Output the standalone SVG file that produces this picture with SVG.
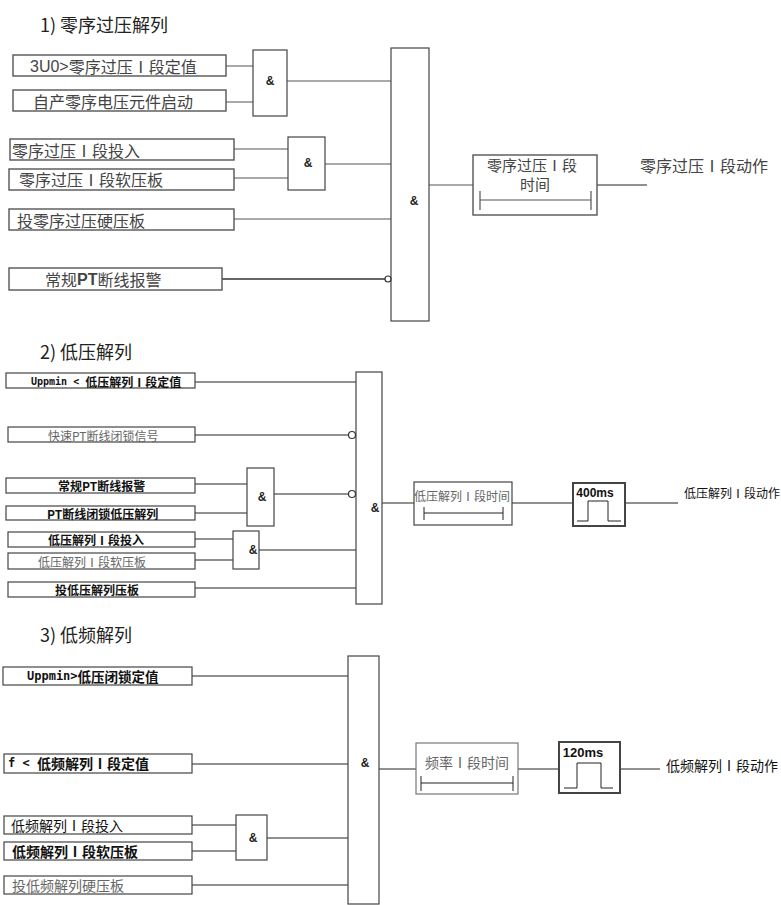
<svg xmlns="http://www.w3.org/2000/svg" width="781" height="905" viewBox="0 0 781 905">
<style>
.bg{fill:#fff}
.box{fill:#fff;stroke:#444;stroke-width:1.2}
.box1{fill:#fff;stroke:#555;stroke-width:1.4}
.gate{fill:#fff;stroke:#444;stroke-width:1.2}
.pbox{fill:#fff;stroke:#444;stroke-width:2}
.ln{fill:none;stroke:#555;stroke-width:1.2}
.ln2{fill:none;stroke:#222;stroke-width:1}
.neg{fill:#fff;stroke:#333;stroke-width:1.2}
text{font-family:"Noto Sans CJK SC","Liberation Sans",sans-serif;dominant-baseline:central;fill:#333}
.t1{font-size:16px;fill:#444}
.t2{font-size:12px;fill:#111}
.t3{font-size:14px;fill:#111}
.b{font-weight:bold}
.g{fill:#666}
.mono{font-family:"DejaVu Sans Mono","Noto Sans CJK SC",monospace}
.amp{font-family:"Liberation Sans","Noto Sans CJK SC",sans-serif;font-size:12px;font-weight:bold;fill:#222;text-anchor:middle}
.lat{font-family:"Liberation Sans","Noto Sans CJK SC",sans-serif}
.title{font-size:18px;fill:#222}
.mid{text-anchor:middle}
</style>
<rect class="bg" x="0" y="0" width="781" height="905"/>

<g id="titles">
<text class="title" x="40" y="24">1) 零序过压解列</text>
<text class="title" x="40" y="351">2) 低压解列</text>
<text class="title" x="40" y="634">3) 低频解列</text>
</g>

<g id="connectors">
<!-- section 1 -->
<path class="ln" d="M226 66H253M226 102H253M287 81H391M234 149H288M234 178H288M325 164H391M234 219H391"/>
<path class="ln2" d="M222 279H385" style="stroke-width:1.6;stroke:#333"/>
<path class="ln" d="M429 185H473"/>
<path class="ln2" d="M597 185H647"/>
<!-- section 2 -->
<path class="ln2" d="M195 382H356M195 435H349M195 484H247M195 513H247M274 494H349M195 539H233M195 560H233M259 550H356M195 588H356M382 503H414M512 503H573M625 503H678"/>
<!-- section 3 -->
<path class="ln2" d="M192 676H348M192 764H348M192 825H236M192 851H236M267 838H348M192 885H348M379 769H416M518 769H559M620 769H660"/>
</g>

<!-- Section 1 nodes -->
<g id="s1_in1"><rect class="box1" x="13" y="55" width="213" height="21"/><text class="t1" x="30" y="66"><tspan class="lat">3U0&gt;</tspan>零序过压Ⅰ段定值</text></g>
<g id="s1_in2"><rect class="box1" x="13" y="90" width="213" height="21"/><text class="t1" x="33" y="101">自产零序电压元件启动</text></g>
<g id="s1_and1"><rect class="gate" x="253" y="50" width="34" height="66"/><text class="amp" x="270" y="81">&amp;</text></g>
<g id="s1_in3"><rect class="box1" x="10" y="139" width="224" height="21"/><text class="t1" x="12" y="150">零序过压Ⅰ段投入</text></g>
<g id="s1_in4"><rect class="box1" x="9" y="169" width="225" height="21"/><text class="t1" x="19" y="179">零序过压Ⅰ段软压板</text></g>
<g id="s1_and2"><rect class="gate" x="288" y="137" width="37" height="53"/><text class="amp" x="308" y="163">&amp;</text></g>
<g id="s1_in5"><rect class="box1" x="9" y="209" width="225" height="21"/><text class="t1" x="17" y="220">投零序过压硬压板</text></g>
<g id="s1_in6"><rect class="box1" x="9" y="268" width="213" height="22"/><text class="t1" x="45" y="279">常规<tspan class="lat b">PT</tspan>断线报警</text></g>
<g id="s1_and"><rect class="gate" x="391" y="48" width="38" height="273"/><text class="amp" x="414" y="201">&amp;</text><circle class="neg" cx="388" cy="279" r="3"/></g>
<g id="s1_timer"><rect class="box1" x="473" y="155" width="124" height="60"/>
<text class="t1 mid lat" x="532" y="165" style="font-size:15px">零序过压Ⅰ段</text><text class="t1 mid lat" x="535" y="184" style="font-size:15px">时间</text>
<path class="ln" d="M480 200H591M480 191V210M591 191V210"/></g>
<g id="s1_out"><text class="t1" x="640" y="165">零序过压Ⅰ段动作</text></g>

<!-- Section 2 nodes -->
<g id="s2_in1"><rect class="box" x="6" y="373" width="189" height="15"/><text class="t2 b" x="31" y="381"><tspan class="mono" style="font-size:10px">Uppmin &lt; </tspan>低压解列Ⅰ段定值</text></g>
<g id="s2_in2"><rect class="box" x="8" y="427" width="187" height="15"/><text class="t2 g" x="48" y="435">快速PT断线闭锁信号</text></g>
<g id="s2_in3"><rect class="box" x="6" y="478" width="189" height="15"/><text class="t2 b" x="58" y="485">常规PT断线报警</text></g>
<g id="s2_in4"><rect class="box" x="6" y="506" width="189" height="14"/><text class="t2 b" x="47" y="513">PT断线闭锁低压解列</text></g>
<g id="s2_and1"><rect class="gate" x="247" y="468" width="27" height="58"/><text class="amp" x="262" y="497">&amp;</text></g>
<g id="s2_in5"><rect class="box" x="8" y="532" width="187" height="15"/><text class="t2 b" x="48" y="539">低压解列Ⅰ段投入</text></g>
<g id="s2_in6"><rect class="box" x="8" y="553" width="187" height="16"/><text class="t2 g" x="38" y="561">低压解列Ⅰ段软压板</text></g>
<g id="s2_and2"><rect class="gate" x="233" y="531" width="26" height="38"/><text class="amp" x="253" y="550">&amp;</text></g>
<g id="s2_in7"><rect class="box" x="8" y="582" width="187" height="15"/><text class="t2 b" x="55" y="589">投低压解列压板</text></g>
<g id="s2_and"><rect class="gate" x="356" y="372" width="26" height="232"/><text class="amp" x="375" y="508">&amp;</text><circle class="neg" cx="352" cy="435" r="3.5"/><circle class="neg" cx="352" cy="494" r="3.5"/></g>
<g id="s2_timer"><rect class="box" x="414" y="482" width="98" height="43"/><text class="t2 g" x="414" y="495">低压解列Ⅰ段时间</text>
<path class="ln2" d="M424 513H503M424 507V520M503 507V520"/></g>
<g id="s2_pulse"><rect class="pbox" x="573" y="483" width="52" height="43"/><text class="t2 b mid lat" x="595" y="493">400ms</text>
<path class="ln2" d="M577 521H588V501H608V521H621"/></g>
<g id="s2_out"><text class="t2" x="684" y="492">低压解列Ⅰ段动作</text></g>

<!-- Section 3 nodes -->
<g id="s3_in1"><rect class="box" x="3" y="667" width="189" height="18"/><text class="t3 b" x="27" y="676" style="font-size:13.5px"><tspan class="mono" style="font-size:12px">Uppmin&gt;</tspan>低压闭锁定值</text></g>
<g id="s3_in2"><rect class="box" x="4" y="754" width="188" height="19"/><text class="t3 b" x="8" y="763"><tspan class="mono" style="font-size:12px">f &lt; </tspan>低频解列Ⅰ段定值</text></g>
<g id="s3_in3"><rect class="box" x="4" y="816" width="188" height="18"/><text class="t3" x="11" y="825">低频解列Ⅰ段投入</text></g>
<g id="s3_in4"><rect class="box" x="4" y="842" width="188" height="18"/><text class="t3 b" x="12" y="851">低频解列Ⅰ段软压板</text></g>
<g id="s3_and1"><rect class="gate" x="236" y="815" width="31" height="45"/><text class="amp" x="253" y="838">&amp;</text></g>
<g id="s3_in5"><rect class="box" x="4" y="876" width="188" height="18"/><text class="t3 g" x="12" y="885">投低频解列硬压板</text></g>
<g id="s3_and"><rect class="gate" x="348" y="656" width="31" height="248"/><text class="amp" x="365" y="763">&amp;</text></g>
<g id="s3_timer"><rect class="box" x="416" y="743" width="102" height="51" style="stroke:#777"/><text class="t3 g mid" x="467" y="762">频率Ⅰ段时间</text>
<path class="ln2" d="M421 783H513M421 776V791M513 776V791"/></g>
<g id="s3_pulse"><rect class="pbox" x="559" y="742" width="61" height="51"/><text class="t3 b mid lat" x="583" y="752" style="font-size:13px">120ms</text>
<path class="ln2" d="M564 788H577V763H601V788H613"/></g>
<g id="s3_out"><text class="t3" x="666" y="765">低频解列Ⅰ段动作</text></g>
</svg>
